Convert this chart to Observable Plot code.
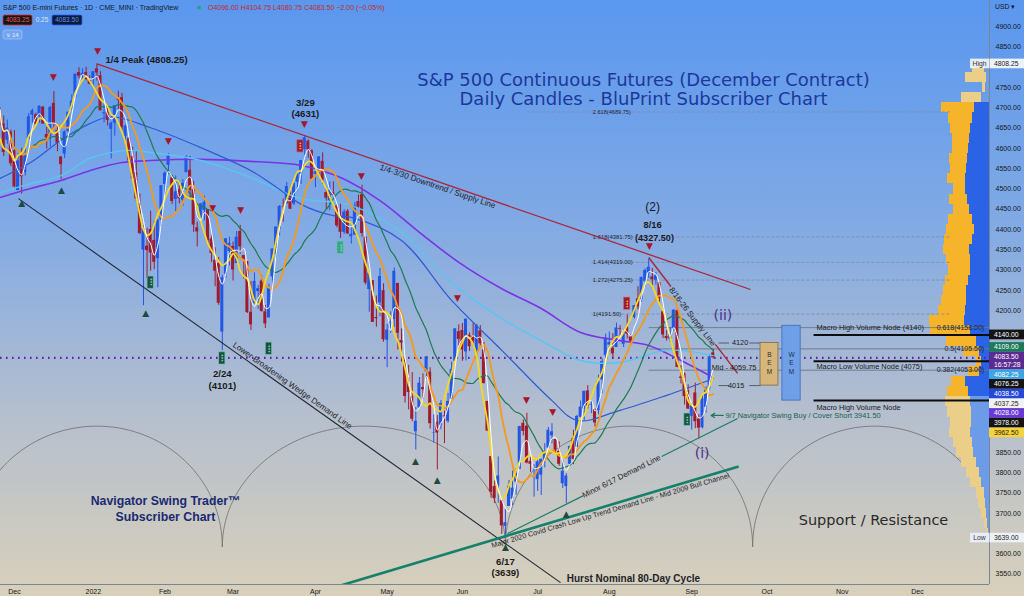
<!DOCTYPE html>
<html>
<head>
<meta charset="utf-8">
<script src="https://cdn.jsdelivr.net/npm/d3@7"></script>
<script src="https://cdn.jsdelivr.net/npm/@observablehq/plot@0.6"></script>
<style>
  html, body { margin: 0; padding: 0; background: #d7d0bd; overflow: hidden; }
  #chart svg { display: block; }
</style>
</head>
<body>
<div id="chart"></div>
<script>
// ---------------- DATA (daily OHLC, ES continuous) ----------------
const nov21 = [[4675,4700,4655,4695],[4660,4680,4580,4590],[4620,4670,4610,4650],[4640,4645,4555,4562]];
const dec21 = [[4594,4644,4502,4505],[4496,4587,4496,4569],[4581,4600,4487,4530],[4540,4604,4532,4583],[4623,4686,4623,4678],[4682,4697,4662,4693],[4683,4687,4657,4659],[4679,4705,4662,4704],[4702,4702,4659,4660],[4634,4652,4598,4626],[4629,4704,4603,4701],[4711,4740,4646,4660],[4644,4658,4592,4612],[4579,4579,4523,4560],[4586,4643,4575,4641],[4642,4690,4637,4689],[4695,4732,4695,4717],[4725,4783,4725,4783],[4787,4799,4772,4778],[4780,4796,4770,4785],[4787,4800,4767,4770],[4768,4779,4757,4758]];
const jan22 = [[4770,4789,4750,4789],[4796,4808.25,4766,4786],[4779,4789,4692,4693],[4685,4717,4663,4688],[4689,4699,4655,4669],[4647,4665,4574,4662],[4662,4706,4630,4705],[4720,4741,4695,4718],[4725,4736,4642,4651],[4629,4658,4606,4655],[4625,4625,4560,4569],[4580,4603,4523,4525],[4540,4594,4469,4475],[4463,4487,4387,4390],[4349,4409,4212,4402],[4359,4403,4279,4348],[4400,4445,4297,4342],[4373,4420,4301,4319],[4328,4424,4256,4424],[4423,4508,4406,4508]];
const feb22 = [[4511,4542,4476,4539],[4558,4587,4536,4581],[4527,4534,4462,4469],[4474,4532,4443,4493],[4498,4513,4463,4476],[4472,4523,4457,4514],[4540,4582,4540,4579],[4546,4580,4476,4496],[4498,4519,4393,4411],[4404,4418,4357,4394],[4422,4464,4422,4463],[4447,4482,4421,4467],[4449,4449,4365,4372],[4377,4386,4319,4341],[4324,4355,4259,4297],[4316,4331,4213,4218],[4147,4287,4101,4281],[4290,4377,4279,4377],[4346,4381,4310,4366]];
const mar22 = [[4358,4369,4273,4300],[4316,4395,4316,4381],[4395,4410,4339,4357],[4336,4336,4278,4323],[4321,4321,4193,4195],[4196,4271,4151,4165],[4217,4293,4217,4272],[4247,4262,4203,4254],[4273,4286,4196,4198],[4197,4213,4156,4167],[4182,4265,4182,4256],[4283,4352,4256,4352],[4339,4406,4329,4406],[4401,4459,4384,4457],[4456,4475,4418,4455],[4463,4516,4463,4506],[4487,4495,4449,4450],[4463,4514,4459,4514],[4517,4540,4495,4537],[4536,4569,4511,4570],[4597,4631,4583,4626],[4618,4621,4576,4596],[4594,4597,4524,4524]];
const apr22 = [[4536,4543,4503,4542],[4543,4579,4535,4579],[4568,4589,4511,4521],[4491,4500,4448,4477],[4471,4517,4446,4496],[4490,4517,4481,4484],[4458,4460,4404,4409],[4433,4467,4378,4393],[4393,4449,4388,4443],[4445,4449,4388,4389],[4382,4407,4364,4388],[4386,4467,4386,4458],[4469,4485,4451,4455],[4486,4509,4381,4390],[4381,4382,4263,4268],[4252,4296,4196,4292],[4274,4274,4171,4171],[4183,4236,4159,4180],[4219,4304,4185,4284],[4249,4266,4122,4128]];
const may22 = [[4127,4166,4059,4152],[4156,4197,4144,4172],[4178,4305,4158,4297],[4267,4267,4103,4144],[4126,4155,4073,4120],[4078,4079,3972,3988],[4032,4065,3955,3998],[3988,4047,3926,3932],[3901,3961,3856,3927],[3960,4035,3960,4021],[4010,4044,3980,4005],[4049,4087,4030,4086],[4048,4059,3908,3921],[3897,3943,3873,3898],[3925,3941,3807,3898],[3917,3978,3906,3971],[3940,3952,3872,3938],[3927,3996,3922,3976],[3981,4073,3981,4055],[4075,4155,4075,4155],[4148,4165,4101,4129]];
const jun22 = [[4151,4168,4075,4103],[4098,4179,4076,4179],[4139,4145,4099,4111],[4136,4170,4112,4123],[4099,4166,4082,4163],[4150,4163,4109,4118],[4103,4121,4019,4020],[3976,3976,3902,3903],[3840,3840,3737,3752],[3766,3780,3724,3737],[3767,3839,3725,3792],[3731,3731,3648,3669],[3668,3710,3639,3677],[3717,3781,3717,3767],[3735,3804,3719,3762],[3777,3810,3745,3798],[3808,3915,3808,3914],[3922,3930,3891,3902],[3915,3947,3822,3824],[3828,3838,3801,3821],[3787,3820,3740,3787]];
const jul22 = [[3783,3831,3754,3827],[3794,3834,3744,3833],[3833,3872,3812,3847],[3861,3912,3861,3905],[3891,3921,3871,3901],[3882,3882,3849,3856],[3853,3876,3816,3821],[3773,3831,3761,3804],[3766,3798,3724,3792],[3821,3865,3819,3865],[3885,3905,3820,3833],[3863,3942,3862,3939],[3937,3977,3931,3962],[3957,4001,3929,4001],[4002,4015,3957,3964],[3967,3977,3946,3969],[3956,3958,3913,3923],[3953,4041,3943,4026],[4029,4081,3995,4074],[4089,4142,4082,4132]];
const aug22 = [[4115,4147,4098,4121],[4107,4143,4081,4093],[4109,4169,4109,4157],[4156,4163,4137,4154],[4117,4153,4109,4147],[4158,4189,4130,4142],[4135,4140,4114,4124],[4183,4213,4179,4212],[4229,4259,4202,4209],[4227,4282,4221,4282],[4272,4303,4258,4299],[4292,4327.5,4279,4307],[4283,4304,4255,4276],[4275,4294,4263,4286],[4269,4269,4220,4230],[4197,4197,4131,4140],[4136,4151,4125,4131],[4129,4158,4122,4143],[4155,4202,4149,4201],[4200,4206,4059,4060],[4036,4064,4019,4033],[4044,4046,3967,3988],[4002,4017,3956,3957]];
const sep22 = [[3939,3972,3905,3969],[3997,4021,3909,3926],[3933,3944,3883.5,3910],[3911,3989,3908,3982],[3961,4012,3947,4004],[4008,4092,4004,4085.5],[4096,4104.75,4080.75,4083.5]];

// time axis (bar index of first session of each month) and price axis ticks
const monthTicks  = [0, 22, 42, 61, 84, 104, 125, 146, 166, 189, 210, 231, 252];
const monthLabels = ["Dec","2022","Feb","Mar","Apr","May","Jun","Jul","Aug","Sep","Oct","Nov","Dec"];
const priceTicks  = [4900,4850,4750,4700,4650,4600,4550,4500,4450,4400,4350,4300,4250,4200,3850,3800,3750,3700,3600,3550];

// slower averages: [bar index, price]
const blueAvg   = [[-4,4526],[4.5,4565],[13,4620],[21,4661],[27,4678],[38,4651],[52,4602],[66,4545],[73,4505],[80,4462],[89,4434],[94,4430],[108,4373],[122,4225],[136,4102],[150,3978],[157,3929],[169,3954],[182,3991],[195,4032]];
const cyanAvg   = [[-4,4491],[4.5,4513],[13,4533],[21,4575],[31.5,4595],[38,4590],[52,4570],[66,4528],[80,4476],[93,4462],[108,4393],[122,4269],[136,4180],[147,4126],[158,4077],[169,4072],[182,4102],[195,4089]];
const purpleAvg = [[-4,4479],[4.5,4501],[13,4521],[21,4545],[30,4565],[38,4570],[52,4573],[66,4568],[80,4558],[91,4528],[102,4471],[113,4393],[124,4319],[136,4254],[147,4205],[158,4146],[169,4126],[177,4114],[186,4077],[195,4035]];

// swing markers [bar index, price]
const swingHighs = [[10.9,4775],[23.2,4839],[43,4617],[55.3,4452],[63.1,4449],[80.9,4661],[96.8,4531],[123.6,4230],[142.9,3978],[150.2,3949],[177.2,4358]];
const swingLows  = [[2,4466],[13.1,4496],[36.6,4193],[111.9,3830],[118,3783],[137,3616],[154,3697]];
const signalBoxes = [[79.8,4605,"sell"],[171,4217,"sell"],[38,4269,"buy"],[58,4082,"buy"],[71,4106,"buy"],[91,4355,"alert"],[187.8,3931,"buy"]];

// Fibonacci levels
const fibRatios = ["2.618","1.618","1.414","1.272","1","0.618","0.5","0.382"];
const fibPrices = [4689.75,4381.75,4319.00,4275.25,4191.50,4158.00,4105.50,4053.00];

// volume nodes, expected moves, last price
const macroLevels = [4140, 4075, 3978];
const macroTexts  = ["Macro High Volume Node (4140)", "Macro Low Volume Node (4075)", "Macro High Volume Node"];
const emLevels = [4120, 4059.75, 4015];
const emTexts  = ["4120", "Mid - 4059.75", "4015"];
const bemRange = [4015, 4120];
const wemRange = [3978, 4162.5];
const lastPrice = 4083.5;

// trend lines [[i1,p1],[i2,p2]]
const downtrendLine = [[23, 4808.25], [205.4, 4252]];
const wedgeLine     = [[1.1, 4476], [152.4, 3529]];
const majorDemand   = [[91, 3522], [202.1, 3815.5]];
const minorDemand   = [[137.6, 3650], [201.8, 3934]];
const supplyLine    = [[177, 4331], [201.8, 4045]];

// Hurst nominal 80-day cycle troughs (bar index) and arc levels
const hurstCycles = [[-12, 58], [58, 137], [137, 206], [206, 274]];
const hurstBase = 3618, hurstCrest = 3915;

// visible-range volume profile (25-pt rows): up / down volume
const profilePrices = [4800,4775,4750,4725,4700,4675,4650,4625,4600,4575,4550,4525,4500,4475,4450,4425,4400,4375,4350,4325,4300,4275,4250,4225,4200,4175,4150,4125,4100,4075,4050,4025,4000,3975,3950,3925,3900,3875,3850,3825,3800,3775,3750,3725,3700,3675,3650];
const profileBuy  = [5,3,4,8,15,17,19,20,21,22,23,24,24,22,20,17,15,17,20,19,19,21,23,23,24,25,19,13,10,8,10,24,21,19,18,18,19,17,16,13,10,8,5,4,3,2,1];
const profileSell = [12,21,3,20,33,24,20,17,16,18,16,18,12,18,16,24,28,28,26,24,22,23,23,25,27,35,40,30,16,5,11,14,21,25,24,21,21,19,17,15,13,11,8,7,5,3,2];

// price-scale tags
const tagPrices = [4140, 4109, 4083.5, 4082.25, 4076.25, 4038.5, 4037.25, 4028, 3978, 3962.5];
const tagTexts  = ["4140.00","4109.00","4083.50","4082.25","4076.25","4038.50","4037.25","4028.00","3978.00","3962.50"];
const tagSub    = ["", "", "16:57:28", "", "", "", "", "", "", ""];
const rangeHigh = 4808.25, rangeLow = 3639.00;

// header
const headerTitle = "S&P 500 E-mini Futures · 1D · CME_MINI · TradingView";
const headerOHLC  = "O4096.00 H4104.75 L4080.75 C4083.50 −2.00 (−0.05%)";
const quoteBoxes  = ["4083.25", "0.25", "4083.50"];
const indicatorCount = "14";

// ---------------- STYLE / LAYOUT ----------------
const F  = "'Liberation Sans', Arial, Helvetica, sans-serif";
const FD = "'DejaVu Sans', Verdana, sans-serif";
const XL = -3.9, XR = 272.1;
const PX_PER_BAR = 989 / (XR - XL);
const UP = "#2156e6", DN = "#a11b2f";
const tagBg = ["#141414","#1d7a5a","#5b2b91","#3ea4e4","#141414","#2448d8","#f2f2f2","#6a3ad6","#141414","#f6d33a"];
const tagFg = ["#fff","#fff","#fff","#fff","#fff","#fff","#1a1a1a","#fff","#fff","#1a1a1a"];

const candles = [nov21, dec21, jan22, feb22, mar22, apr22, may22, jun22, jul22, aug22, sep22]
  .flat().map(([o, h, l, c], k) => ({i: k - 4, o, h, l, c}));
const candleColor = d => d.c >= d.o ? UP : DN;

const arcPoints = hurstCycles.flatMap(([a, b], k) => d3.range(0, 73).map(t => {
  const th = Math.PI * t / 72;
  return {k, i: (a + b) / 2 - (b - a) / 2 * Math.cos(th), p: hurstBase + (hurstCrest - hurstBase) * Math.sin(th)};
}));

const fibs = fibRatios.map((r, k) => ({r, p: fibPrices[k], label: `${r}(${fibPrices[k].toFixed(2)})`, upper: +r >= 1}));
const profile = profilePrices.map((p, k) => ({p, b: profileBuy[k], s: profileSell[k], va: p >= 3990 && p <= 4715}));
const vs = 1 / PX_PER_BAR;

const seg = (line, f0, f1) => {
  const [[x1, y1], [x2, y2]] = line;
  return [{x1: x1 + (x2 - x1) * f0, y1: y1 + (y2 - y1) * f0, x2: x1 + (x2 - x1) * f1, y2: y1 + (y2 - y1) * f1}];
};
const link = (data, opts) => Plot.link(data, {x1: "x1", y1: "y1", x2: "x2", y2: "y2", ...opts});
const label = (t, i, p, opts) => Plot.text([t], {x: () => i, y: () => p, text: d => d, ...opts});
const frameText = (t, dx, dy, opts) => Plot.text([t], {frameAnchor: "top-left", dx, dy, text: d => d, textAnchor: "middle", ...opts});
const maLine = (k, anchor, stroke, w) => Plot.line(candles, Plot.windowY({k, anchor}, {x: "i", y: "c", stroke, strokeWidth: w, curve: "catmull-rom"}));
const sampled = (arr, stroke, w) => Plot.line(arr, {x: d => d[0], y: d => d[1], stroke, strokeWidth: w, curve: "catmull-rom"});

function tagsMark(index, scales, values, dim) {
  const y = scales.y;
  const x0 = dim.width - dim.marginRight;
  const g = d3.create("svg:g").attr("font-family", F).attr("font-size", 6.8).attr("text-anchor", "start");
  g.append("text").attr("x", x0 + 6).attr("y", 7).attr("dy", "0.35em").attr("fill", "#131722").text("USD ▾");
  let prevBottom = -Infinity;
  tagPrices.forEach((p, k) => {
    const h = tagSub[k] ? 17.5 : 9.7;
    const top = Math.max(y(p) - h / 2, prevBottom);
    prevBottom = top + h;
    g.append("rect").attr("x", x0).attr("y", top).attr("width", dim.width - x0).attr("height", h).attr("fill", tagBg[k]);
    g.append("text").attr("x", x0 + 5).attr("y", top + 4.85).attr("dy", "0.35em").attr("fill", tagFg[k]).text(tagTexts[k]);
    if (tagSub[k]) g.append("text").attr("x", x0 + 5).attr("y", top + 12.4).attr("dy", "0.35em").attr("fill", tagFg[k]).text(tagSub[k]);
  });
  [["High", rangeHigh], ["Low", rangeLow]].forEach(([name, p]) => {
    const yy = y(p);
    g.append("rect").attr("x", x0 - 19).attr("y", yy - 4.8).attr("width", 19).attr("height", 9.6).attr("fill", "#e7edf6");
    g.append("text").attr("x", x0 - 9.5).attr("y", yy).attr("dy", "0.35em").attr("text-anchor", "middle").attr("fill", "#333").text(name);
    g.append("rect").attr("x", x0 + 0.5).attr("y", yy - 4.8).attr("width", dim.width - x0).attr("height", 9.6).attr("fill", "#eef2f8");
    g.append("text").attr("x", x0 + 5).attr("y", yy).attr("dy", "0.35em").attr("fill", "#222").text(p.toFixed(2));
  });
  return g.node();
}

function headerMark() {
  const g = d3.create("svg:g").attr("font-family", F).attr("font-size", 7).attr("text-anchor", "start");
  g.append("text").attr("x", 3).attr("y", 7.5).attr("dy", "0.35em").attr("fill", "#131722").text(headerTitle);
  g.append("circle").attr("cx", 199).attr("cy", 7.5).attr("r", 2).attr("fill", "#20a67c");
  g.append("text").attr("x", 208).attr("y", 7.5).attr("dy", "0.35em").attr("fill", "#c62828").text(headerOHLC);
  g.append("rect").attr("x", 3).attr("y", 15).attr("width", 29).attr("height", 10).attr("rx", 1.5).attr("fill", "#161616").attr("stroke", "#d32f2f").attr("stroke-width", 0.8);
  g.append("text").attr("x", 17.5).attr("y", 20).attr("dy", "0.35em").attr("text-anchor", "middle").attr("font-size", 6.5).attr("fill", "#ef5350").text(quoteBoxes[0]);
  g.append("text").attr("x", 42).attr("y", 20).attr("dy", "0.35em").attr("text-anchor", "middle").attr("font-size", 6.5).attr("fill", "#dbe5f7").text(quoteBoxes[1]);
  g.append("rect").attr("x", 52).attr("y", 15).attr("width", 30).attr("height", 10).attr("rx", 1.5).attr("fill", "#0d1b36").attr("stroke", "#2962ff").attr("stroke-width", 0.8);
  g.append("text").attr("x", 67).attr("y", 20).attr("dy", "0.35em").attr("text-anchor", "middle").attr("font-size", 6.5).attr("fill", "#5b93ff").text(quoteBoxes[2]);
  g.append("rect").attr("x", 3).attr("y", 30).attr("width", 19).attr("height", 9).attr("rx", 2).attr("fill", "rgba(255,255,255,0.12)").attr("stroke", "#a9c6f5").attr("stroke-width", 0.7);
  g.append("text").attr("x", 12.5).attr("y", 34.5).attr("dy", "0.35em").attr("text-anchor", "middle").attr("font-size", 6).attr("fill", "#e3ebff").text("∨ " + indicatorCount);
  return g.node();
}

const plot = Plot.plot({
  width: 1024, height: 596,
  marginLeft: 0, marginRight: 35, marginTop: 0, marginBottom: 12,
  style: {background: "linear-gradient(180deg, #5a97ef 0%, #82aae4 38%, #b6bfcd 70%, #d8d0bb 100%)", fontFamily: F, fontSize: "7px", color: "#131722"},
  x: {domain: [XL, XR], ticks: monthTicks, tickFormat: d => monthLabels[monthTicks.indexOf(d)], tickSize: 0, tickPadding: 5, label: null},
  y: {domain: [3524.5, 4964.7], axis: "right", ticks: priceTicks, tickFormat: d => d.toFixed(2), tickSize: 0, tickPadding: 6, label: null},
  color: {type: "identity"},
  marks: [
    // Hurst cycle arcs
    Plot.line(arcPoints, {x: "i", y: "p", z: "k", stroke: "#6e6e6e", strokeWidth: 0.8, clip: true}),
    // volume profile
    Plot.rect(profile, {x1: d => XR - (d.b + d.s) * vs, x2: d => XR - d.b * vs, y1: d => d.p - 12.5, y2: d => d.p + 12.5, fill: d => d.va ? "#f6b42a" : "#ebcf88", shapeRendering: "crispEdges"}),
    Plot.rect(profile, {x1: d => XR - d.b * vs, x2: () => XR, y1: d => d.p - 12.5, y2: d => d.p + 12.5, fill: d => d.va ? "#2a63e6" : "#6c9be8", shapeRendering: "crispEdges"}),
    // fib levels
    Plot.link(fibs.filter(d => d.upper), {x1: d => d.r === "2.618" ? 143 : 161, x2: () => 261, y1: "p", y2: "p", stroke: "#7d8aa3", strokeWidth: 0.8, strokeDasharray: "3,2"}),
    Plot.link(fibs.filter(d => !d.upper), {x1: () => 177, x2: () => XR, y1: "p", y2: "p", stroke: "#6d7686", strokeWidth: 0.9}),
    Plot.text(fibs.filter(d => d.upper), {x: () => 161.4, y: "p", text: "label", textAnchor: "start", fontSize: d => d.r === "2.618" ? 5.6 : 5.9, fill: "#1d2433"}),
    Plot.text(fibs.filter(d => !d.upper), {x: () => 270.6, y: "p", text: "label", textAnchor: "end", fontSize: 7, fill: "#1d2433"}),
    // macro volume nodes
    Plot.link(macroLevels, {x1: () => 223, x2: () => XR, y1: d => d, y2: d => d, stroke: "#0d0d0d", strokeWidth: 2}),
    label(macroTexts[0], 223.8, macroLevels[0], {dy: -7, textAnchor: "start", fontSize: 7.4, fill: "#1b1b1b"}),
    label(macroTexts[1], 223.8, macroLevels[1], {dy: 5.5, textAnchor: "start", fontSize: 7.4, fill: "#1b1b1b"}),
    label(macroTexts[2], 223.8, macroLevels[2], {dy: 7, textAnchor: "start", fontSize: 7.4, fill: "#1b1b1b"}),
    // last price dotted line
    Plot.ruleY([lastPrice], {stroke: "#6a1fa8", strokeWidth: 2.2, strokeDasharray: "1.6,4.4"}),
    // candles
    Plot.ruleX(candles, {x: "i", y1: "l", y2: "h", stroke: candleColor, strokeWidth: 1}),
    Plot.rect(candles, {x1: d => d.i - 0.42, x2: d => d.i + 0.42, y1: "o", y2: "c", fill: candleColor}),
    // averages
    sampled(purpleAvg, "#7a34e6", 1.6),
    sampled(cyanAvg, "#59c5f2", 1.4),
    sampled(blueAvg, "#2d5bd6", 1.2),
    maLine(20, "end", "#1f7a4e", 1.2),
    maLine(10, "end", "#f5991b", 1.8),
    maLine(7, "middle", "#f8d81f", 1.8),
    maLine(3, "end", "#ffffff", 1),
    // trend lines
    link(seg(downtrendLine, 0, 1), {stroke: "#a8283b", strokeWidth: 1.3}),
    link(seg(wedgeLine, 0, 1), {stroke: "#222836", strokeWidth: 1.1, clip: true}),
    link(seg(majorDemand, 0, 1), {stroke: "#16806c", strokeWidth: 2.6, clip: true}),
    link(seg(minorDemand, 0, 0.33), {stroke: "#1b7d68", strokeWidth: 1.2}),
    link(seg(minorDemand, 0.67, 1), {stroke: "#1b7d68", strokeWidth: 1.2}),
    link(seg(supplyLine, 0, 0.25), {stroke: "#a8283b", strokeWidth: 1.4}),
    link(seg(supplyLine, 0.75, 1), {stroke: "#a8283b", strokeWidth: 1.4}),
    label("1/4-3/30 Downtrend / Supply Line", 118.1, 4506, {rotate: 18.7, fontSize: 8.2, fill: "#1f1f1f"}),
    label("Lower Broadening Wedge Demand Line", 77.6, 4015, {rotate: 35.3, fontSize: 8.1, fill: "#1f1f1f"}),
    label("Major 2020 Covid Crash Low Up Trend Demand Line - Mid 2009 Bull Channel", 166.3, 3707, {rotate: -16.5, fontSize: 7.2, fill: "#1f1f1f"}),
    label("Minor 6/17 Demand Line", 169.4, 3791, {rotate: -26.6, fontSize: 7.9, fill: "#1f1f1f"}),
    label("8/16-26 Supply Line", 189.2, 4185, {rotate: 52.5, fontSize: 8, fill: "#1f1f1f"}),
    label("Hurst Nominal 80-Day Cycle", 154.1, 3539, {textAnchor: "start", fontSize: 10, fontWeight: "bold", fill: "#1f1f2a"}),
    // 9/7 signal
    Plot.arrow([0], {x1: () => 197.8, y1: () => 3941.5, x2: () => 194.4, y2: () => 3941.5, stroke: "#1b7a62", strokeWidth: 1.2, headLength: 6}),
    label("9/7 Navigator Swing Buy / Cover Short 3941.50", 198.4, 3941.5, {textAnchor: "start", fontSize: 7.4, fill: "#17614f"}),
    // expected move levels and boxes
    Plot.link(emLevels.filter((d, k) => k !== 1), {x1: () => 196.5, x2: () => 199.4, y1: d => d, y2: d => d, stroke: "#4a5160", strokeWidth: 0.9}),
    Plot.link(emLevels.filter((d, k) => k !== 1), {x1: () => 205.1, x2: () => 208.2, y1: d => d, y2: d => d, stroke: "#4a5160", strokeWidth: 0.9}),
    label(emTexts[0], 202.5, emLevels[0], {fontSize: 7.3, fill: "#1b1b1b"}),
    label(emTexts[1], 200.8, emLevels[1], {fontSize: 7.3, fill: "#1b1b1b"}),
    label(emTexts[2], 201.4, emLevels[2], {fontSize: 7.3, fill: "#1b1b1b"}),
    Plot.rect([bemRange], {x1: () => 208.2, x2: () => 213.2, y1: d => d[0], y2: d => d[1], fill: "#d7b67c", stroke: "#7c6a48", strokeWidth: 0.8}),
    Plot.rect([wemRange], {x1: () => 214.3, x2: () => 219.4, y1: d => d[0], y2: d => d[1], fill: "#6f9fe6", stroke: "#3c68bd", strokeWidth: 0.8}),
    Plot.text(["B","E","M"], {x: () => 210.7, y: (d, k) => [4090, 4070, 4050][k], text: d => d, fontSize: 6.5, fill: "#3a3124"}),
    Plot.text(["W","E","M"], {x: () => 216.85, y: (d, k) => [4090, 4070, 4050][k], text: d => d, fontSize: 6.5, fill: "#1d2f55"}),
    // swing markers & signal boxes
    Plot.text(swingHighs, {x: d => d[0], y: d => d[1], text: () => "▼", fontFamily: FD, fontSize: 9, fill: "#a3172c"}),
    Plot.text(swingLows, {x: d => d[0], y: d => d[1], text: () => "▲", fontFamily: FD, fontSize: 9, fill: "#1d4b3d"}),
    Plot.rect(signalBoxes, {x1: d => d[0] - 0.85, x2: d => d[0] + 0.85, y1: d => d[1] - 15, y2: d => d[1] + 15,
      fill: d => d[2] === "sell" ? "#9c1d34" : d[2] === "alert" ? "#3aa58a" : "#1d4f45", stroke: d => d[2] === "sell" ? "#d05a6a" : "#5fc3a0", strokeWidth: 0.6}),
    Plot.text(signalBoxes, {x: d => d[0], y: d => d[1], text: () => "⁝", fontSize: 9, fontWeight: "bold", fill: d => d[2] === "sell" ? "#f4c542" : "#7fe0b0"}),
    // pivot labels
    label("1/4 Peak (4808.25)", 25.4, 4817, {textAnchor: "start", fontSize: 9.6, fontWeight: "bold", fill: "#1b1b1b"}),
    label("3/29", 81.2, 4713, {fontSize: 9.6, fontWeight: "bold", fill: "#1b1b1b"}),
    label("(4631)", 81.2, 4686, {fontSize: 9.6, fontWeight: "bold", fill: "#1b1b1b"}),
    label("2/24", 58, 4045, {fontSize: 9.6, fontWeight: "bold", fill: "#1b1b1b"}),
    label("(4101)", 58, 4015, {fontSize: 9.6, fontWeight: "bold", fill: "#1b1b1b"}),
    label("6/17", 137, 3581, {fontSize: 9.6, fontWeight: "bold", fill: "#1b1b1b"}),
    label("(3639)", 137, 3552, {fontSize: 9.6, fontWeight: "bold", fill: "#1b1b1b"}),
    label("( 1 )", 137, 3514, {fontSize: 9.6, fontWeight: "bold", fill: "#1b1b1b", clip: true}),
    label("(2)", 178.1, 4454, {fontSize: 12, fill: "#1b1b1b"}),
    label("8/16", 178.1, 4410, {fontSize: 9.3, fontWeight: "bold", fill: "#1b1b1b"}),
    label("(4327.50)", 178.6, 4380, {fontSize: 9.1, fontWeight: "bold", fill: "#1b1b1b"}),
    label("(ii)", 197.7, 4188, {fontFamily: FD, fontSize: 14, fill: "#4a2c8e"}),
    label("(i)", 191.9, 3847, {fontFamily: FD, fontSize: 14, fill: "#4a2c8e"}),
    // titles
    frameText("S&P 500 Continuous Futures (December Contract)", 643, 73, {fontFamily: FD, fontSize: 18, fill: "#1b399b"}),
    frameText("Daily Candles - BluPrint Subscriber Chart", 643, 92, {fontFamily: FD, fontSize: 18, fill: "#1b399b"}),
    frameText("Navigator Swing Trader™", 165, 496, {fontSize: 12.3, fontWeight: "bold", fill: "#1b2a70"}),
    frameText("Subscriber Chart", 165, 512, {fontSize: 12.3, fontWeight: "bold", fill: "#1b2a70"}),
    frameText("Support / Resistance", 873, 514, {fontFamily: FD, fontSize: 14.5, fill: "#2a2a2a"}),
    // pane separators
    Plot.ruleY([3524.5], {stroke: "#7d8593", strokeWidth: 1}),
    Plot.ruleX([XR], {stroke: "#7d8593", strokeWidth: 1}),
    tagsMark,
    headerMark
  ]
});
document.getElementById("chart").appendChild(plot);
</script>
</body>
</html>
